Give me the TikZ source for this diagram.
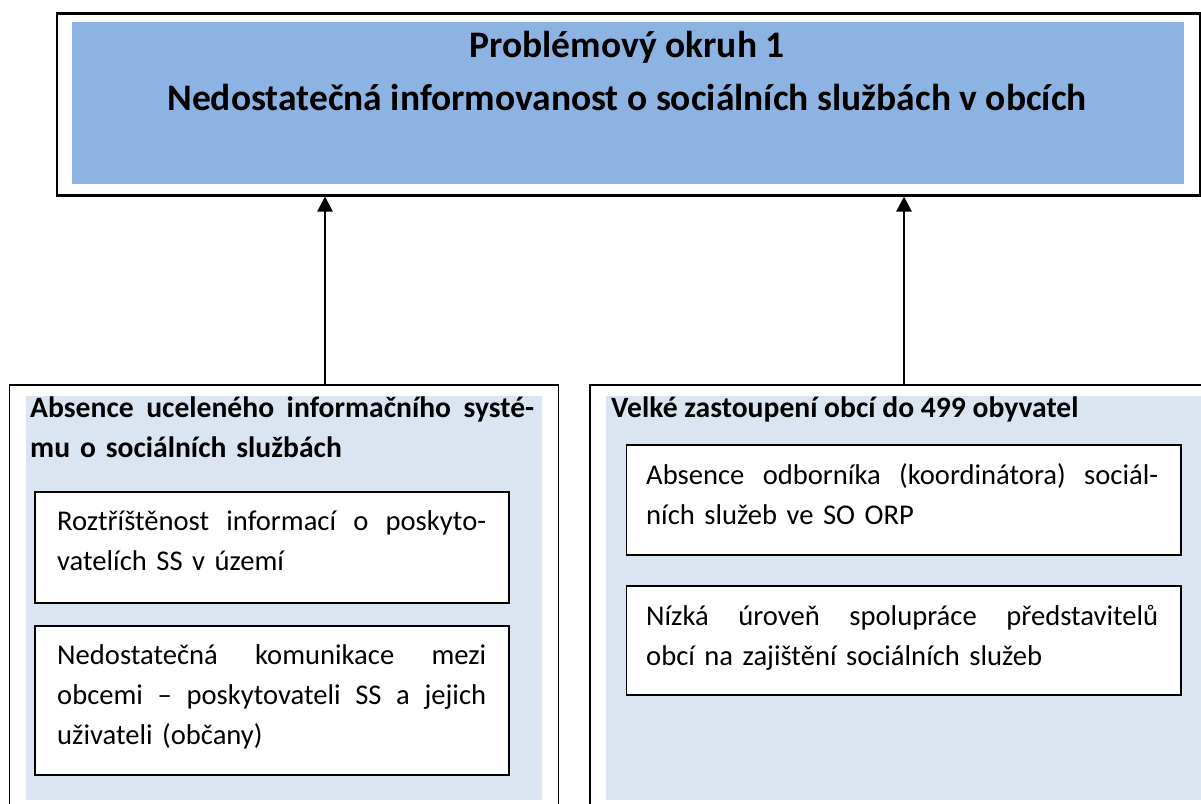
\documentclass[tikz,border=0pt]{standalone}
\usepackage{fontspec}
\setmainfont{Carlito}
\usetikzlibrary{arrows.meta}
\definecolor{topblue}{HTML}{8DB3E2}
\definecolor{paleblue}{HTML}{DBE5F1}
\tikzset{
  box/.style={draw=black, fill=white, inner sep=0pt, anchor=north west},
  fillbox/.style={fill=#1, draw=none, inner sep=0pt, anchor=north west},
  titletxt/.style={font=\fontsize{37.5}{42}\selectfont\bfseries, anchor=base, inner sep=0pt},
  headtxt/.style={font=\fontsize{29.6}{40}\selectfont\bfseries, anchor=base west, inner sep=0pt},
  bodytxt/.style={font=\fontsize{28.6}{40}\selectfont, anchor=base west, inner sep=0pt},
  arr/.style={line width=2.5pt, -{Triangle[length=15pt,width=15pt]}}
}
\newcommand{\jline}[1]{\leavevmode\hbox to \hsize{#1}}
\begin{document}
\begin{tikzpicture}[x=1pt,y=-1pt]
\clip (0,0) rectangle (1201,803);
% top problem box
\node[box, line width=2.5pt, minimum width=1143.5pt, minimum height=182pt] (top) at (55.5,12) {};
\node[fillbox=topblue, minimum width=1112pt, minimum height=162pt] (topfill) at (72,22) {};
\node[titletxt] (t1) at (627,57) {Problémový okruh 1};
\node[titletxt] (t2) at (627,110) {Nedostatečná informovanost o sociálních službách v obcích};
% bottom left cause box
\node[box, line width=1.6pt, minimum width=549pt, minimum height=440pt] (bl) at (8.5,384) {};
\node[fillbox=paleblue, minimum width=515.5pt, minimum height=404pt] (blfill) at (26,396) {};
\node[headtxt, text width=504pt] (hl) at (30,417) {\jline{Absence\hfill uceleného\hfill informačního\hfill systé-}\par\noindent mu o sociálních službách};
\node[box, line width=1.6pt, minimum width=474pt, minimum height=111pt] (b1) at (34,491) {};
\node[bodytxt, text width=429pt] (x1) at (57,530) {\jline{Roztříštěnost\hfill informací\hfill o\hfill poskyto-}\par\noindent vatelích SS v území};
\node[box, line width=1.6pt, minimum width=474pt, minimum height=149pt] (b2) at (34,625) {};
\node[bodytxt, text width=429pt] (x2) at (57,664) {\jline{Nedostatečná\hfill komunikace\hfill mezi}\par\jline{obcemi\hfill –\hfill poskytovateli\hfill SS\hfill a\hfill jejich}\par\noindent uživateli (občany)};
% bottom right cause box
\node[box, line width=1.6pt, minimum width=640pt, minimum height=440pt] (br) at (589,384) {};
\node[fillbox=paleblue, minimum width=620pt, minimum height=404pt] (brfill) at (606,396) {};
\node[headtxt] (hr) at (611,417) {Velké zastoupení obcí do 499 obyvatel};
\node[box, line width=1.6pt, minimum width=554.5pt, minimum height=110pt] (b3) at (625.5,444) {};
\node[bodytxt, text width=512pt] (x3) at (646,484) {\jline{Absence\hfill odborníka\hfill (koordinátora)\hfill sociál-}\par\noindent ních služeb ve SO ORP};
\node[box, line width=1.6pt, minimum width=554.5pt, minimum height=109pt] (b4) at (625.5,585) {};
\node[bodytxt, text width=512pt] (x4) at (646,625) {\jline{Nízká\hfill úroveň\hfill spolupráce\hfill představitelů}\par\noindent obcí na zajištění sociálních služeb};
% connectors
\coordinate (a1) at (325,300);
\coordinate (a2) at (904,300);
\draw[arr] (bl.north -| a1) -- (top.south -| a1);
\draw[arr] (br.north -| a2) -- (top.south -| a2);
\end{tikzpicture}
\end{document}
